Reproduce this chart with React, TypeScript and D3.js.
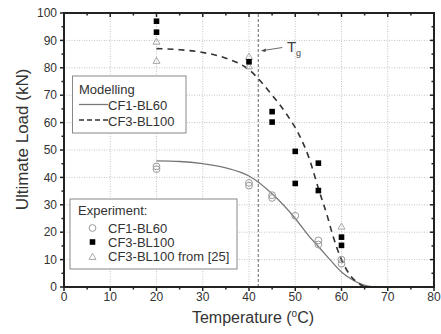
import React, { useEffect } from 'react';
import * as d3 from 'd3';

// modelling curves
const cf1ModelT = [20, 25, 30, 35, 40, 45, 50, 53, 55, 57.5, 60, 62, 64, 65.5, 67];
const cf1ModelL = [46, 45.8, 45, 43.5, 40.5, 34, 25, 18.5, 14.8, 10, 5.5, 3, 1.2, 0.4, 0];
const cf3ModelT = [20, 25, 30, 35, 40, 45, 48, 51, 53, 55, 57, 58, 60, 62, 64, 65];
const cf3ModelL = [87, 86.6, 85.6, 83.5, 79.3, 70, 63.4, 55, 47, 36, 25.5, 19.5, 10, 4, 1, 0];

// experiment points
const cf1ExpT = [20, 20, 40, 40, 45, 45, 50, 55, 55, 60, 60];
const cf1ExpL = [44, 43, 38, 37, 33.5, 32.5, 26, 17, 15.5, 10, 8.5];
const cf3ExpT = [20, 20, 40, 45, 45, 50, 50, 55, 55, 60, 60];
const cf3ExpL = [97, 93, 82.2, 64, 60.2, 49.5, 37.8, 45.2, 35.2, 18.2, 15.2];
const refExpT = [20, 20, 40, 40, 60];
const refExpL = [89.5, 82.5, 84, 80.5, 22];

const xTicks = [0, 10, 20, 30, 40, 50, 60, 70, 80];
const yTicks = [0, 10, 20, 30, 40, 50, 60, 70, 80, 90, 100];
const xMinor = [5, 15, 25, 35, 45, 55, 65, 75];
const yMinor = [5, 15, 25, 35, 45, 55, 65, 75, 85, 95];
const tg = 42;

const W = 441;
const H = 334;
const FONT = '"Liberation Sans", Arial, sans-serif';
const AXIS = '#222';

function Triangle({ cx, cy, s = 7 }: { cx: number; cy: number; s?: number }) {
  const h = s * 0.87;
  return (
    <path
      d={`M${cx},${cy - h * 0.6} L${cx + s / 2},${cy + h * 0.4} L${cx - s / 2},${cy + h * 0.4} Z`}
      fill="none"
      stroke="#a8a8a8"
      strokeWidth={1}
    />
  );
}

export default function App() {
  useEffect(() => {
    document.body.style.margin = '0';
  }, []);

  const x = d3.scaleLinear().domain([0, 80]).range([64, 434]);
  const y = d3.scaleLinear().domain([0, 100]).range([287, 13]);
  const [x0, x1] = x.range();
  const [y0, y1] = y.range();

  const line = d3
    .line<[number, number]>()
    .x((d) => x(d[0]))
    .y((d) => y(d[1]))
    .curve(d3.curveMonotoneX);

  const cf1Model = cf1ModelT.map((t, i) => [t, cf1ModelL[i]] as [number, number]);
  const cf3Model = cf3ModelT.map((t, i) => [t, cf3ModelL[i]] as [number, number]);

  return (
    <svg width={W} height={H} style={{ display: 'block', background: '#fff' }} fontFamily={FONT}>
      {/* grid */}
      {xTicks.slice(1, -1).map((t) => (
        <line key={'gx' + t} x1={x(t)} x2={x(t)} y1={y0} y2={y1} stroke="#c4c4c4" strokeWidth={1} strokeDasharray="1 1.5" />
      ))}
      {yTicks.slice(1, -1).map((t) => (
        <line key={'gy' + t} x1={x0} x2={x1} y1={y(t)} y2={y(t)} stroke="#c4c4c4" strokeWidth={1} strokeDasharray="1 1.5" />
      ))}

      {/* Tg line */}
      <line x1={x(tg)} x2={x(tg)} y1={y0} y2={y1} stroke="#666" strokeWidth={1} strokeDasharray="3 2" />

      {/* modelling curves */}
      <path d={line(cf1Model) || undefined} fill="none" stroke="#777" strokeWidth={1.3} />
      <path d={line(cf3Model) || undefined} fill="none" stroke="#333" strokeWidth={1.6} strokeDasharray="6 5" />

      {/* experiments */}
      {cf1ExpT.map((t, i) => (
        <circle key={'c' + i} cx={x(t)} cy={y(cf1ExpL[i])} r={3.4} fill="none" stroke="#9a9a9a" strokeWidth={1} />
      ))}
      {refExpT.map((t, i) => (
        <Triangle key={'t' + i} cx={x(t)} cy={y(refExpL[i])} />
      ))}
      {cf3ExpT.map((t, i) => (
        <rect key={'s' + i} x={x(t) - 2.8} y={y(cf3ExpL[i]) - 2.8} width={5.6} height={5.6} fill="#000" />
      ))}

      {/* Tg annotation */}
      <line x1={x(47.2)} y1={y(87.4)} x2={x(43)} y2={y(86.3)} stroke="#444" strokeWidth={0.8} />
      <path d={`M${x(42.6)},${y(86.2)} l5,-2.2 l-0.6,3.4 Z`} fill="#444" />
      <text x={x(48.2)} y={y(85.8)} fontSize={15} fill="#444">
        T<tspan fontSize={9} dy={4}>g</tspan>
      </text>

      {/* axes frame */}
      <line x1={x0} x2={x1} y1={y0} y2={y0} stroke={AXIS} strokeWidth={2} />
      <line x1={x0} x2={x1} y1={y1} y2={y1} stroke={AXIS} strokeWidth={2} />
      <line x1={x0} x2={x0} y1={y0 + 1} y2={y1 - 1} stroke={AXIS} strokeWidth={2} />
      <line x1={x1} x2={x1} y1={y0 + 1} y2={y1 - 1} stroke={AXIS} strokeWidth={2} />

      {/* ticks */}
      {xTicks.map((t) => (
        <g key={'xt' + t}>
          <line x1={x(t)} x2={x(t)} y1={y0} y2={y0 + 4} stroke={AXIS} strokeWidth={1.5} />
          <line x1={x(t)} x2={x(t)} y1={y1} y2={y1 + 4} stroke={AXIS} strokeWidth={1.5} />
          <text x={x(t)} y={y0 + 14} fontSize={12} textAnchor="middle" fill="#333">{t}</text>
        </g>
      ))}
      {xMinor.map((t) => (
        <g key={'xm' + t}>
          <line x1={x(t)} x2={x(t)} y1={y0} y2={y0 + 2.5} stroke={AXIS} strokeWidth={1.5} />
          <line x1={x(t)} x2={x(t)} y1={y1} y2={y1 + 2.5} stroke={AXIS} strokeWidth={1.5} />
        </g>
      ))}
      {yTicks.map((t) => (
        <g key={'yt' + t}>
          <line x1={x0 - 4} x2={x0} y1={y(t)} y2={y(t)} stroke={AXIS} strokeWidth={1.5} />
          <line x1={x1 - 4} x2={x1} y1={y(t)} y2={y(t)} stroke={AXIS} strokeWidth={1.5} />
          <text x={x0 - 7} y={y(t)} dy={4.2} fontSize={12} textAnchor="end" fill="#333">{t}</text>
        </g>
      ))}
      {yMinor.map((t) => (
        <g key={'ym' + t}>
          <line x1={x0 - 2.5} x2={x0} y1={y(t)} y2={y(t)} stroke={AXIS} strokeWidth={1.5} />
          <line x1={x1 - 2.5} x2={x1} y1={y(t)} y2={y(t)} stroke={AXIS} strokeWidth={1.5} />
        </g>
      ))}

      {/* axis titles */}
      <text x={(x0 + x1) / 2 + 4} y={323} fontSize={16} textAnchor="middle" fill="#333">
        Temperature (<tspan fontSize={10} dy={-6}>o</tspan><tspan dy={6}>C)</tspan>
      </text>
      <text transform={`translate(28,139.5) rotate(-90)`} fontSize={17} textAnchor="middle" fill="#333">
        Ultimate Load (kN)
      </text>

      {/* Modelling legend */}
      <rect x={72.5} y={76} width={113.5} height={57} fill="#fff" stroke="#888" strokeWidth={1} />
      <text x={79} y={94} fontSize={13} fill="#333">Modelling</text>
      <line x1={79} x2={108} y1={104.5} y2={104.5} stroke="#777" strokeWidth={1.3} />
      <text x={108} y={110} fontSize={13} fill="#333">CF1-BL60</text>
      <line x1={79} x2={108} y1={120} y2={120} stroke="#333" strokeWidth={1.6} strokeDasharray="5 3" />
      <text x={108} y={125.5} fontSize={13} fill="#333">CF3-BL100</text>

      {/* Experiment legend */}
      <rect x={70} y={199} width={167} height={70} fill="#fff" stroke="#888" strokeWidth={1} />
      <text x={78} y={214.5} fontSize={13} fill="#333">Experiment:</text>
      <circle cx={92.5} cy={228} r={3.4} fill="none" stroke="#9a9a9a" strokeWidth={1} />
      <text x={108} y={232.5} fontSize={13} fill="#333">CF1-BL60</text>
      <rect x={92.5 - 2.8} y={242 - 2.8} width={5.6} height={5.6} fill="#000" />
      <text x={108} y={247} fontSize={13} fill="#333">CF3-BL100</text>
      <Triangle cx={92.5} cy={257} />
      <text x={108} y={261} fontSize={13} fill="#333">CF3-BL100 from [25]</text>
    </svg>
  );
}
